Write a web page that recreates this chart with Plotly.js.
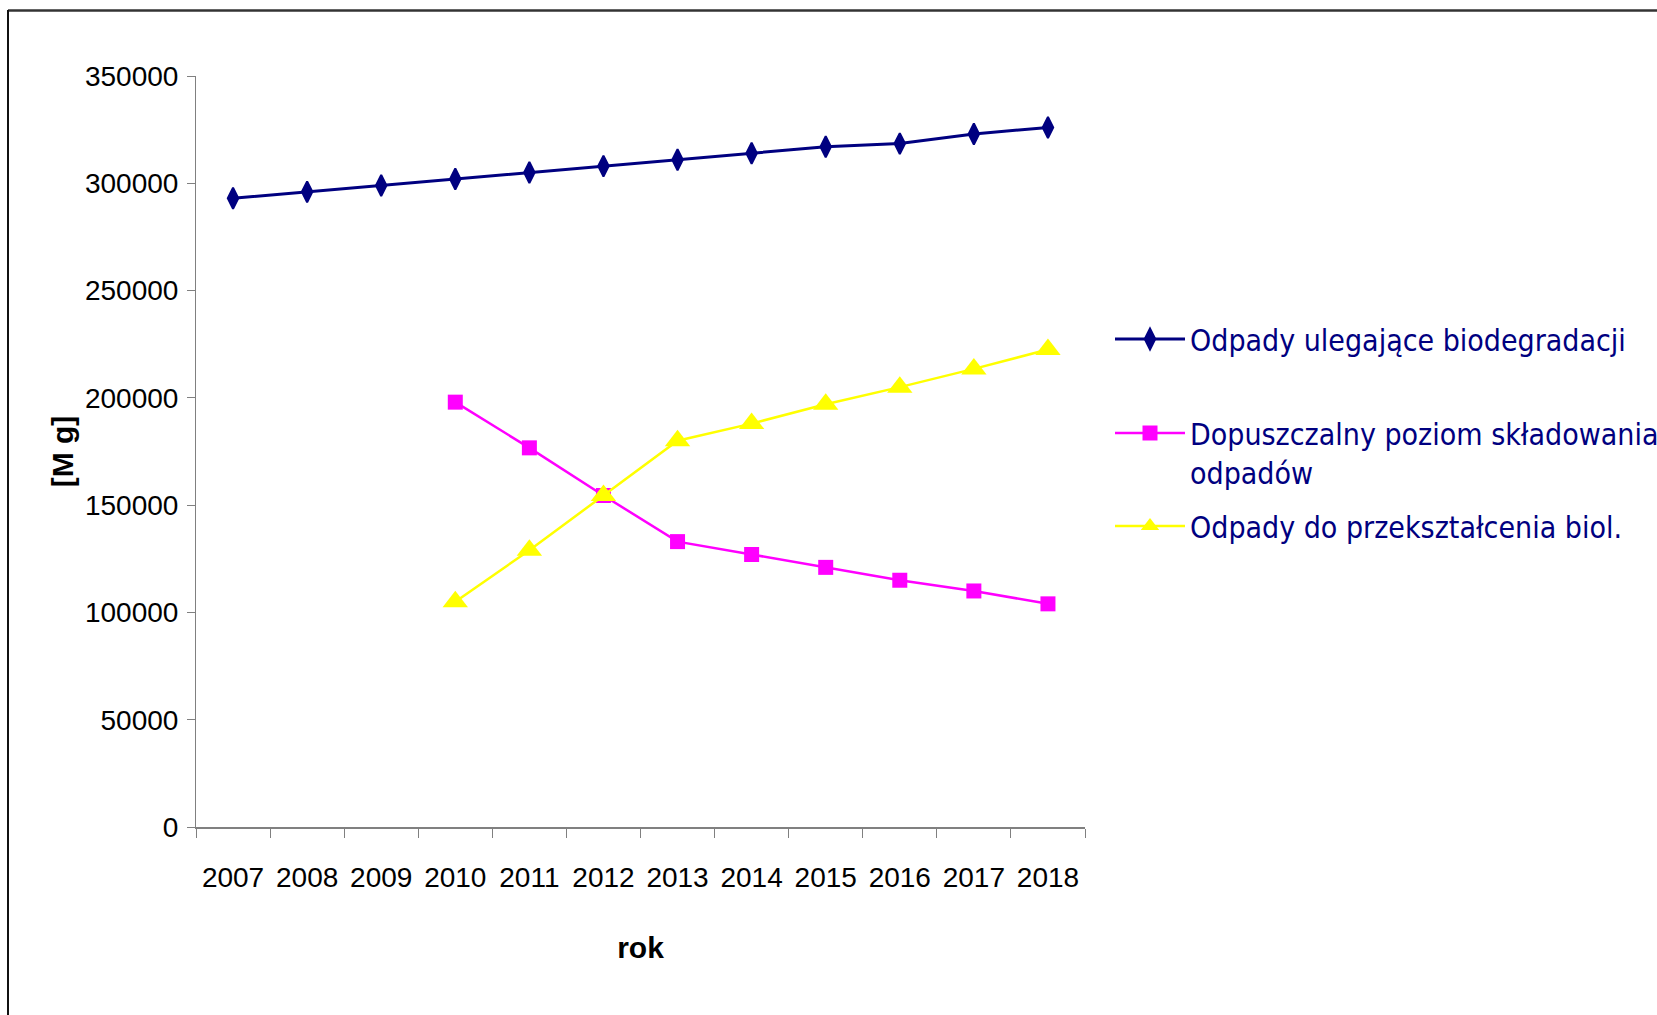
<!DOCTYPE html>
<html><head><meta charset="utf-8">
<script src="https://cdn.plot.ly/plotly-3.0.1.min.js"></script>
<style>html,body{margin:0;padding:0;background:#fff}#chart{width:1657px;height:1015px}</style>
</head><body><div id="chart"></div>
<script>
const years = ['2007','2008','2009','2010','2011','2012','2013','2014','2015','2016','2017','2018'];
const biodegradable = [293000, 296000, 299000, 302000, 305000, 308000, 311000, 314000, 317000, 318500, 323000, 326000];
const laterYears = ['2010','2011','2012','2013','2014','2015','2016','2017','2018'];
const landfillLimit = [198000, 176700, 154500, 133000, 127000, 121000, 115000, 110000, 104000];
const bioTreatment = [105000, 129000, 154500, 180000, 188000, 197000, 205000, 213500, 222500];
const seriesNames = ['Odpady ulegające biodegradacji', 'Dopuszczalny poziom składowania<br>odpadów', 'Odpady do przekształcenia biol.'];
const yTicks = [0, 50000, 100000, 150000, 200000, 250000, 300000, 350000];

const W = 1657, H = 1015;
const M = {l: 196, r: 572, t: 76, b: 188};
const pw = W - M.l - M.r, ph = H - M.t - M.b;
const xp = px => (px - M.l) / pw;
const yp = py => 1 - (py - M.t) / ph;

const narrow = '"Liberation Sans Narrow", "Arial Narrow", "Liberation Sans", Arial, sans-serif';
const legFont = {family: '"DejaVu Sans Condensed", "DejaVu Sans", sans-serif', size: 30, color: '#000080'};

const traces = [
  {x: years, y: biodegradable, name: seriesNames[0], type: 'scatter', mode: 'lines+markers',
   line: {color: '#000080', width: 3}, marker: {symbol: 'diamond-tall', size: 15, color: '#000080', line: {color: '#000080', width: 2}},
   legend: 'legend'},
  {x: laterYears, y: landfillLimit, name: seriesNames[1], type: 'scatter', mode: 'lines+markers',
   line: {color: '#FF00FF', width: 2.5}, marker: {symbol: 'square', size: 15, color: '#FF00FF'},
   legend: 'legend2'},
  {x: laterYears, y: bioTreatment, name: seriesNames[2], type: 'scatter', mode: 'lines+markers',
   line: {color: '#FFFF00', width: 2.5}, marker: {symbol: 'triangle-up', size: 22, color: '#FFFF00'},
   legend: 'legend3'}
];

const legBase = {xanchor: 'left', yanchor: 'top', bgcolor: 'rgba(0,0,0,0)', borderwidth: 0,
  font: legFont, itemwidth: 70, valign: 'top', tracegroupgap: 0};

const layout = {
  width: W, height: H,
  margin: {l: M.l, r: M.r, t: M.t, b: M.b, autoexpand: false},
  paper_bgcolor: '#fff', plot_bgcolor: '#fff',
  showlegend: true,
  legend: Object.assign({}, legBase, {x: xp(1110), y: yp(313)}),
  legend2: Object.assign({}, legBase, {x: xp(1110), y: yp(407)}),
  legend3: Object.assign({}, legBase, {x: xp(1110), y: yp(500)}),
  xaxis: {
    type: 'category', categoryorder: 'array', categoryarray: years,
    range: [-0.5, 11.5], tickson: 'boundaries', tickangle: 0,
    ticks: 'outside', ticklen: 9, tickcolor: '#808080', tickwidth: 1,
    showline: true, linecolor: '#808080', linewidth: 2,
    showgrid: false, zeroline: false,
    tickfont: {family: narrow, size: 28, color: '#000'},
    ticklabelstandoff: 24,
    title: {text: 'rok', font: {family: narrow, size: 30, color: '#000', weight: 'bold'}, standoff: 45}
  },
  yaxis: {
    range: [0, 350000], tickvals: yTicks, ticktext: yTicks.map(v => String(v)),
    ticks: 'outside', ticklen: 8, tickcolor: '#808080', tickwidth: 1,
    showline: true, linecolor: '#808080', linewidth: 1,
    showgrid: false, zeroline: false,
    tickfont: {family: narrow, size: 28, color: '#000'},
    ticklabelstandoff: 3,
    title: {text: '[M g]', font: {family: narrow, size: 30, color: '#000', weight: 'bold'}, standoff: 2}
  },
  shapes: [
    {type: 'line', xref: 'paper', yref: 'paper', x0: xp(8), x1: xp(W + 5), y0: yp(10.5), y1: yp(10.5), line: {color: '#333', width: 2.5}},
    {type: 'line', xref: 'paper', yref: 'paper', x0: xp(8), x1: xp(8), y0: yp(10), y1: yp(H + 5), line: {color: '#111', width: 2}}
  ]
};

Plotly.newPlot('chart', traces, layout, {displayModeBar: false, staticPlot: true});
</script></body></html>
